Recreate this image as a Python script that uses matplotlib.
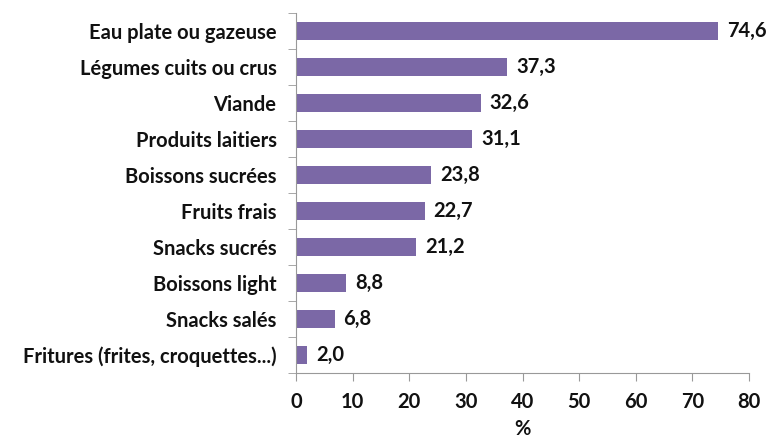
import matplotlib
matplotlib.use("Agg")
import matplotlib.pyplot as plt
import numpy as np

categories = ["Eau plate ou gazeuse", "Légumes cuits ou crus", "Viande", "Produits laitiers",
              "Boissons sucrées", "Fruits frais", "Snacks sucrés", "Boissons light",
              "Snacks salés", "Fritures (frites, croquettes...)"]
values = [74.6, 37.3, 32.6, 31.1, 23.8, 22.7, 21.2, 8.8, 6.8, 2.0]
xticks = [0, 10, 20, 30, 40, 50, 60, 70, 80]

plt.rcParams['font.family'] = ['Lato', 'DejaVu Sans']
fig = plt.figure(figsize=(7.66, 4.43), dpi=100)
ax = fig.add_axes([296/766, 1-373/443, (749-296)/766, (373-13)/443])

fs = 14.5
n = len(categories)
y = np.arange(n)[::-1]
ax.barh(y, values, height=0.5, color='#7B68A6', zorder=2)
for yi, v in zip(y, values):
    ax.text(v + 1.6, yi, f"{v:.1f}".replace('.', ','), va='center', ha='left',
            fontsize=fs, fontweight='bold', color='#111111', clip_on=False)

ax.set_xlim(0, 80)
ax.set_ylim(-0.5, n - 0.5)
ax.set_xticks(xticks)
ax.set_xticklabels([str(t) for t in xticks], fontsize=fs, fontweight='bold', color='#111111')
ax.set_yticks(y)
ax.set_yticklabels(categories, fontsize=fs, fontweight='bold', color='#111111')
ax.tick_params(axis='y', length=0, pad=14)
ax.set_yticks(np.arange(-0.5, n, 1.0), minor=True)
ax.tick_params(axis='y', which='minor', length=6, color='#999999')
ax.tick_params(axis='x', length=6, color='#999999', pad=8)
ax.set_xlabel('%', fontsize=fs, fontweight='bold', labelpad=5, color='#111111')
for s in ['top', 'right']:
    ax.spines[s].set_visible(False)
for s in ['left', 'bottom']:
    ax.spines[s].set_color('#999999')
fig.savefig('out.png', dpi=100)
